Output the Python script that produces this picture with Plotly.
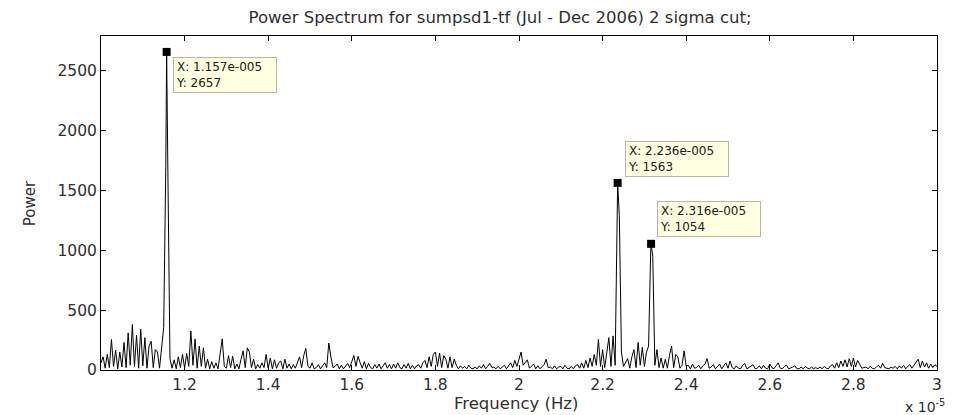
import numpy as np
import plotly.graph_objects as go

# Frequency grid in units of 1e-5 Hz (step 0.005e-5 Hz), 1.0 .. 3.0
grid_start = 1.000
grid_step = 0.005
grid_count = 401

# Power on the grid, ten samples per 0.05e-5 Hz block
power_grid = [
    # 1.00
    60, 110, 15, 130, 20, 255, 30, 165, 10, 150,
    # 1.05
    25, 230, 20, 310, 40, 380, 30, 290, 15, 340,
    # 1.10
    35, 270, 15, 200, 240, 20, 170, 150, 15, 175,
    # 1.15
    355, 1700, 1650, 95, 15, 85, 10, 110, 20, 130,
    # 1.20
    15, 140, 30, 325, 40, 260, 15, 200, 30, 185,
    # 1.25
    15, 90, 10, 70, 15, 60, 10, 120, 260, 30,
    # 1.30
    15, 120, 20, 115, 10, 50, 10, 90, 160, 20,
    # 1.35
    185, 150, 20, 90, 10, 45, 15, 60, 20, 130,
    # 1.40
    15, 100, 10, 85, 15, 60, 75, 10, 90, 15,
    # 1.45
    50, 10, 45, 15, 60, 110, 20, 120, 180, 30,
    # 1.50
    15, 60, 10, 20, 45, 10, 35, 60, 20, 225,
    # 1.55
    110, 20, 30, 50, 10, 40, 10, 35, 55, 20,
    # 1.60
    70, 120, 30, 115, 60, 15, 70, 10, 55, 20,
    # 1.65
    10, 45, 15, 50, 10, 40, 60, 15, 45, 10,
    # 1.70
    50, 15, 60, 20, 10, 45, 15, 55, 10, 40,
    # 1.75
    10, 35, 45, 15, 60, 80, 20, 110, 30, 130,
    # 1.80
    150, 30, 140, 20, 120, 90, 15, 110, 20, 90,
    # 1.85
    40, 10, 35, 15, 30, 10, 40, 15, 10, 25,
    # 1.90
    10, 35, 15, 45, 10, 30, 55, 20, 25, 10,
    # 1.95
    30, 10, 25, 40, 10, 35, 60, 20, 80, 30,
    # 2.00
    100, 150, 40, 60, 85, 15, 30, 50, 10, 35,
    # 2.05
    10, 30, 45, 90, 20, 25, 10, 35, 10, 25,
    # 2.10
    30, 10, 40, 15, 10, 30, 10, 35, 45, 15,
    # 2.15
    60, 15, 80, 20, 100, 30, 130, 40, 255, 30,
    # 2.20
    170, 20, 150, 270, 30, 285, 40, 1320, 1290, 150,
    # 2.25
    30, 60, 95, 15, 110, 170, 20, 230, 40, 190,
    # 2.30
    30, 150, 200, 980, 950, 40, 170, 20, 100, 15,
    # 2.35
    90, 15, 120, 200, 20, 130, 110, 15, 40, 160,
    # 2.40
    30, 40, 10, 50, 15, 20, 40, 10, 35, 50,
    # 2.45
    95, 15, 25, 45, 10, 35, 50, 10, 40, 60,
    # 2.50
    15, 75, 20, 10, 35, 15, 10, 40, 55, 10,
    # 2.55
    20, 30, 45, 10, 15, 35, 10, 40, 15, 10,
    # 2.60
    50, 20, 10, 35, 60, 15, 10, 30, 40, 10,
    # 2.65
    15, 25, 35, 10, 10, 25, 10, 30, 15, 10,
    # 2.70
    25, 10, 20, 10, 25, 10, 30, 15, 10, 35,
    # 2.75
    45, 15, 60, 20, 75, 30, 85, 25, 95, 30,
    # 2.80
    100, 25, 80, 40, 15, 20, 25, 10, 30, 15,
    # 2.85
    10, 25, 40, 15, 55, 20, 15, 10, 25, 15,
    # 2.90
    30, 10, 35, 15, 40, 10, 30, 45, 15, 40,
    # 2.95
    60, 90, 20, 75, 25, 60, 15, 50, 20, 45,
    # 3.00
    30,
]

# Spectral peaks marked with data tips (frequency in Hz, power)
peak_freq = [1.157e-5, 2.236e-5, 2.316e-5]
peak_power = [2657, 1563, 1054]
peak_labels = ["X: 1.157e-005<br>Y: 2657",
               "X: 2.236e-005<br>Y: 1563",
               "X: 2.316e-005<br>Y: 1054"]

# Axis ticks
x_tick_vals = [1.2, 1.4, 1.6, 1.8, 2.0, 2.2, 2.4, 2.6, 2.8, 3.0]
x_tick_text = ["1.2", "1.4", "1.6", "1.8", "2", "2.2", "2.4", "2.6", "2.8", "3"]
y_tick_vals = [0, 500, 1000, 1500, 2000, 2500]

grid_freq = np.round(grid_start + grid_step * np.arange(grid_count), 3) * 1e-5
freq = np.concatenate([grid_freq, np.array(peak_freq)])
power = np.concatenate([np.array(power_grid, dtype=float), np.array(peak_power, dtype=float)])
order = np.argsort(freq, kind="stable")
freq = freq[order]
power = power[order]

FONT = "DejaVu Sans"
TXT = "#303030"

fig = go.Figure()
fig.add_trace(go.Scatter(x=freq, y=power, mode="lines",
                         line=dict(color="black", width=1),
                         hoverinfo="skip", showlegend=False))
fig.add_trace(go.Scatter(x=peak_freq, y=peak_power, mode="markers",
                         marker=dict(symbol="square", size=8, color="black",
                                     line=dict(width=0)),
                         hoverinfo="skip", showlegend=False))

# Data tip boxes: first one below-right of its marker, the others above-right
tip_pos = [("top", 6, -5), ("bottom", 7, 6), ("bottom", 6, 7)]
for fx, py, lab, (yanc, xs, ys) in zip(peak_freq, peak_power, peak_labels, tip_pos):
    fig.add_annotation(x=fx, y=py, xref="x", yref="y", text=lab, showarrow=False,
                       xanchor="left", yanchor=yanc, xshift=xs, yshift=ys,
                       align="left", width=98,
                       font=dict(family=FONT, size=12, color="#202020"),
                       bgcolor="#FFFFE1", bordercolor="#B8B8A8",
                       borderwidth=1, borderpad=2)

axis_common = dict(showline=True, linecolor="black", linewidth=1, mirror="ticks",
                   ticks="inside", ticklen=5, tickcolor="black", tickwidth=1,
                   showgrid=False, zeroline=False,
                   tickfont=dict(family=FONT, size=15.5, color=TXT))

fig.update_layout(
    width=954, height=415, autosize=False,
    paper_bgcolor="white", plot_bgcolor="white",
    margin=dict(l=101, r=14, t=36, b=45, pad=0),
    title=dict(text="Power Spectrum for sumpsd1-tf (Jul - Dec 2006) 2 sigma cut;",
               x=500 / 954, xanchor="center", y=1 - 17 / 415, yanchor="middle",
               font=dict(family=FONT, size=16.5, color=TXT)),
    xaxis=dict(range=[1.0e-5, 3.0e-5],
               tickvals=[v * 1e-5 for v in x_tick_vals], ticktext=x_tick_text,
               **axis_common),
    yaxis=dict(range=[0, 2790], tickvals=y_tick_vals, **axis_common),
    showlegend=False,
)

# Axis titles and the exponent note
fig.add_annotation(text="Frequency (Hz)", xref="paper", yref="paper",
                   x=(517 - 101) / 839, y=-33 / 334, xanchor="center", yanchor="middle",
                   showarrow=False, font=dict(family=FONT, size=16.5, color=TXT))
fig.add_annotation(text="Power", xref="paper", yref="paper",
                   x=(30 - 101) / 839, y=0.5, xanchor="center", yanchor="middle",
                   textangle=-90, showarrow=False,
                   font=dict(family=FONT, size=15, color=TXT))
fig.add_annotation(text="x 10<sup>-5</sup>", xref="paper", yref="paper",
                   x=(950 - 101) / 839, y=-36 / 334, xanchor="right", yanchor="middle",
                   showarrow=False, font=dict(family=FONT, size=14, color=TXT))

fig.write_html("out.html")
